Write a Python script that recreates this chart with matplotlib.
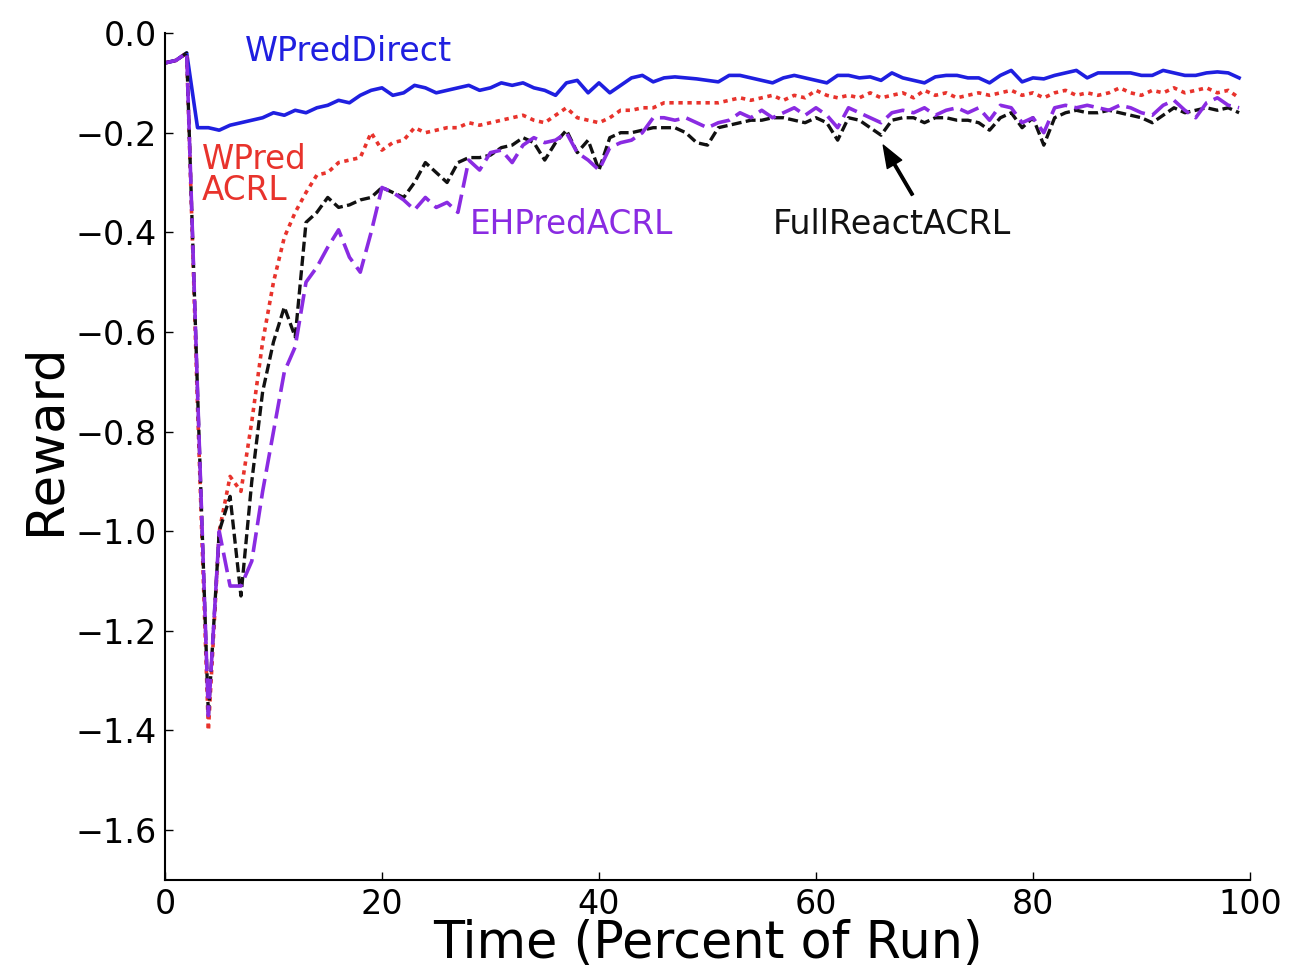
import matplotlib
matplotlib.use("Agg")
import matplotlib.pyplot as plt
import numpy as np

time_pct = list(range(100))

wpred_direct = [
    -0.06, -0.055, -0.04, -0.19, -0.19, -0.195, -0.185, -0.18, -0.175, -0.17,
    -0.16, -0.165, -0.155, -0.16, -0.15, -0.145, -0.135, -0.14, -0.125, -0.115,
    -0.11, -0.125, -0.12, -0.105, -0.11, -0.12, -0.115, -0.11, -0.105, -0.115,
    -0.11, -0.10, -0.105, -0.10, -0.11, -0.115, -0.125, -0.10, -0.095, -0.12,
    -0.10, -0.12, -0.105, -0.09, -0.085, -0.098, -0.09, -0.088, -0.09, -0.092,
    -0.095, -0.098, -0.085, -0.085, -0.09, -0.095, -0.10, -0.09, -0.085, -0.09,
    -0.095, -0.10, -0.085, -0.085, -0.09, -0.088, -0.095, -0.08, -0.09, -0.095,
    -0.10, -0.088, -0.085, -0.085, -0.09, -0.09, -0.10, -0.085, -0.075, -0.098,
    -0.09, -0.092, -0.085, -0.08, -0.075, -0.09, -0.08, -0.08, -0.08, -0.08,
    -0.085, -0.085, -0.075, -0.08, -0.085, -0.085, -0.08, -0.078, -0.08, -0.09,
]

wpred_acrl = [
    -0.06, -0.055, -0.04, -0.75, -1.40, -1.00, -0.89, -0.92, -0.78, -0.62,
    -0.50, -0.41, -0.36, -0.32, -0.285, -0.28, -0.26, -0.255, -0.25, -0.20,
    -0.235, -0.22, -0.215, -0.19, -0.20, -0.195, -0.19, -0.19, -0.18, -0.185,
    -0.18, -0.175, -0.17, -0.165, -0.175, -0.18, -0.165, -0.15, -0.17, -0.175,
    -0.18, -0.17, -0.155, -0.155, -0.15, -0.15, -0.14, -0.14, -0.14, -0.14,
    -0.14, -0.14, -0.135, -0.13, -0.135, -0.13, -0.125, -0.135, -0.125, -0.13,
    -0.115, -0.125, -0.13, -0.125, -0.13, -0.12, -0.13, -0.125, -0.12, -0.13,
    -0.115, -0.125, -0.12, -0.13, -0.125, -0.12, -0.125, -0.12, -0.115, -0.125,
    -0.12, -0.13, -0.12, -0.115, -0.125, -0.12, -0.125, -0.12, -0.11, -0.12,
    -0.125, -0.115, -0.12, -0.11, -0.12, -0.115, -0.11, -0.12, -0.115, -0.13,
]

fullreact_acrl = [
    -0.06, -0.055, -0.04, -0.72, -1.37, -1.00, -0.93, -1.13, -0.90, -0.72,
    -0.62, -0.55, -0.61, -0.38, -0.36, -0.33, -0.35, -0.345, -0.335, -0.33,
    -0.31, -0.32, -0.33, -0.30, -0.26, -0.28, -0.30, -0.26, -0.25, -0.25,
    -0.245, -0.23, -0.225, -0.21, -0.22, -0.255, -0.22, -0.195, -0.24, -0.215,
    -0.275, -0.21, -0.20, -0.20, -0.195, -0.19, -0.19, -0.19, -0.20, -0.22,
    -0.225, -0.19, -0.185, -0.18, -0.175, -0.175, -0.17, -0.17, -0.175, -0.18,
    -0.17, -0.18, -0.215, -0.17, -0.175, -0.19, -0.205, -0.175, -0.17, -0.17,
    -0.18, -0.17, -0.17, -0.175, -0.175, -0.18, -0.195, -0.17, -0.16, -0.19,
    -0.17, -0.225, -0.17, -0.16, -0.155, -0.16, -0.16, -0.155, -0.16, -0.165,
    -0.17, -0.18, -0.165, -0.15, -0.16, -0.155, -0.15, -0.155, -0.15, -0.16,
]

ehpred_acrl = [
    -0.06, -0.055, -0.04, -0.72, -1.37, -1.00, -1.11, -1.11, -1.06, -0.92,
    -0.80, -0.68, -0.63, -0.50, -0.47, -0.43, -0.395, -0.45, -0.48, -0.40,
    -0.31, -0.32, -0.335, -0.355, -0.33, -0.35, -0.34, -0.36, -0.255, -0.275,
    -0.24, -0.235, -0.26, -0.225, -0.21, -0.22, -0.215, -0.20, -0.24, -0.255,
    -0.275, -0.23, -0.22, -0.215, -0.20, -0.17, -0.17, -0.175, -0.17, -0.18,
    -0.19, -0.18, -0.175, -0.16, -0.17, -0.155, -0.17, -0.16, -0.15, -0.165,
    -0.15, -0.165, -0.19, -0.15, -0.16, -0.17, -0.18, -0.16, -0.155, -0.16,
    -0.15, -0.165, -0.155, -0.15, -0.16, -0.15, -0.175, -0.145, -0.15, -0.18,
    -0.17, -0.20, -0.15, -0.145, -0.15, -0.145, -0.15, -0.155, -0.145, -0.15,
    -0.16, -0.165, -0.145, -0.135, -0.155, -0.17, -0.14, -0.13, -0.145, -0.15,
]

x_ticks = [0, 20, 40, 60, 80, 100]
y_ticks = [0.0, -0.2, -0.4, -0.6, -0.8, -1.0, -1.2, -1.4, -1.6]

c_blue = "#1f1fe0"
c_red = "#e8332c"
c_black = "#111111"
c_purple = "#8a2be2"

fig = plt.figure(figsize=(12.93, 9.72), dpi=100)
ax = fig.add_axes([0.1276, 0.0947, 0.8391, 0.8713])

ax.plot(time_pct, wpred_direct, color=c_blue, lw=2.6, ls="-")
ax.plot(time_pct, wpred_acrl, color=c_red, lw=2.6, ls=(0, (1.2, 1.3)))
ax.plot(time_pct, fullreact_acrl, color=c_black, lw=2.4, ls=(0, (3.0, 1.3)))
ax.plot(time_pct, ehpred_acrl, color=c_purple, lw=2.6, ls=(0, (5.5, 2.0)))

ax.set_xlim(0, 100)
ax.set_ylim(-1.7, 0.0)
ax.set_xticks(x_ticks)
ax.set_yticks(y_ticks)
ax.set_xticklabels([str(v) for v in x_ticks])
ax.set_yticklabels([f"{v:.1f}".replace("-", "\u2212") for v in y_ticks])
ax.tick_params(direction="in", length=6, width=1, labelsize=24, top=False, right=False, pad=6)
for s in ["top", "right"]:
    ax.spines[s].set_visible(False)
for s in ["left", "bottom"]:
    ax.spines[s].set_linewidth(1.5)

ax.set_xlabel("Time (Percent of Run)", fontsize=36.5, labelpad=-2)
ax.set_ylabel("Reward", fontsize=37, labelpad=4)
ax.yaxis.set_label_coords(-0.087, 0.52)

ax.text(7.4, -0.038, "WPredDirect", color=c_blue, fontsize=24, va="center", ha="left")
ax.text(3.4, -0.285, "WPred\nACRL", color=c_red, fontsize=23.5, va="center", ha="left", linespacing=0.9)
ax.text(28.1, -0.385, "EHPredACRL", color=c_purple, fontsize=23.5, va="center", ha="left")
ax.text(56.0, -0.385, "FullReactACRL", color=c_black, fontsize=24, va="center", ha="left")
ax.annotate("", xy=(66.2, -0.225), xytext=(68.9, -0.325),
            arrowprops=dict(facecolor="black", edgecolor="black", width=1.8,
                            headwidth=12, headlength=16, shrink=0.0))

fig.savefig("out.png", dpi=100)
